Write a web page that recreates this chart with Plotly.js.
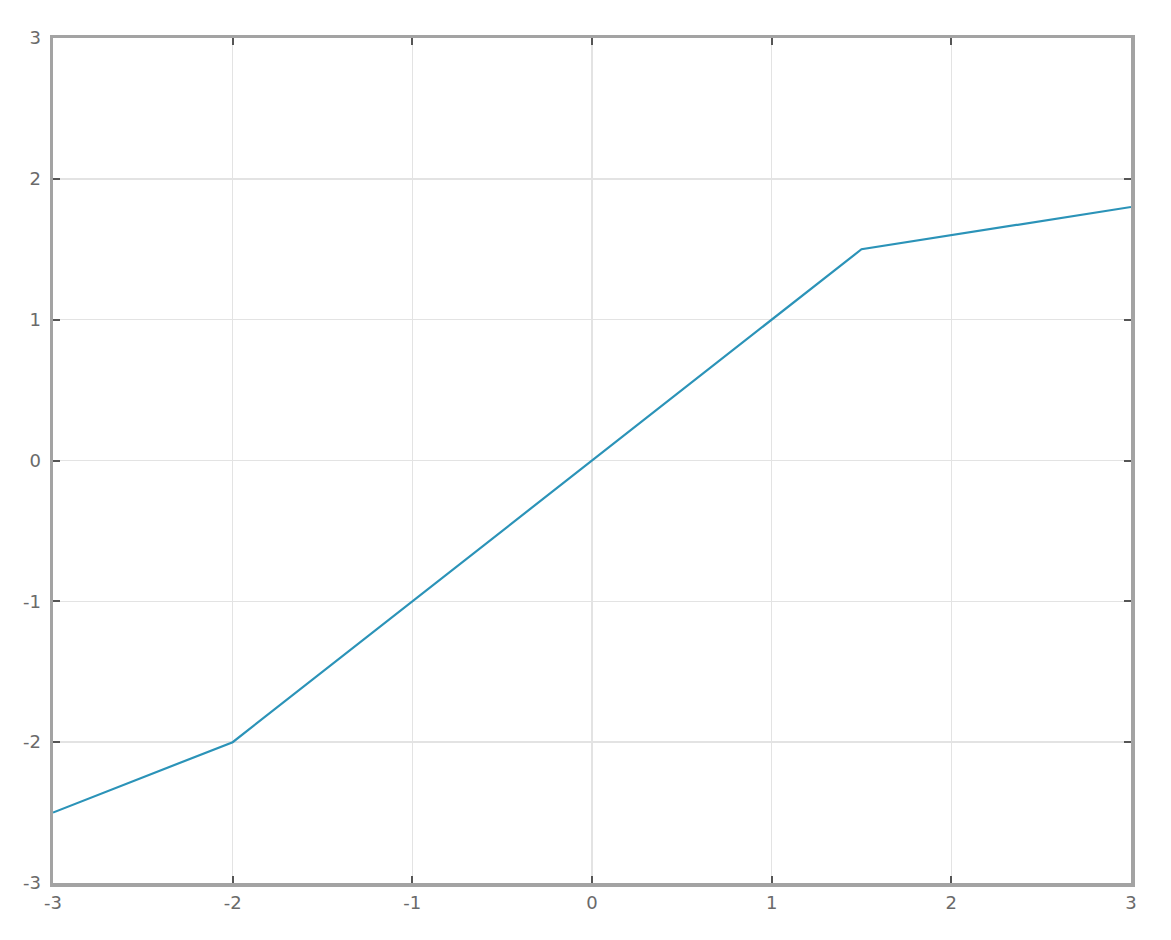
<!DOCTYPE html>
<html>
<head>
<meta charset="utf-8">
<script src="https://cdn.plot.ly/plotly-3.0.1.min.js"></script>
<style>
  html, body { margin: 0; padding: 0; background: #fff; }
  #chart { width: 1171px; height: 940px; }
</style>
</head>
<body>
<div id="chart"></div>
<script>
// piecewise linear curve
const xValues = [-3, -2, 1.5, 3]
const yValues = [-2.5, -2, 1.5, 1.8]
const tickVals = [-3, -2, -1, 0, 1, 2, 3]

const axisStyle = {
  range: [-3, 3],
  tickvals: tickVals,
  ticktext: tickVals.map(String),
  ticks: 'inside',
  ticklen: 7,
  tickwidth: 2,
  tickcolor: '#555',
  showline: true,
  linecolor: '#a3a3a3',
  linewidth: 3.5,
  mirror: 'ticks',
  showgrid: true,
  gridcolor: '#e3e3e3',
  gridwidth: 1.5,
  zeroline: false,
  tickfont: { family: 'DejaVu Sans', size: 18, color: '#6a6a6a' },
  fixedrange: true
}

const trace = {
  x: xValues,
  y: yValues,
  type: 'scatter',
  mode: 'lines',
  line: { color: '#2b93b8', width: 2.2 },
  showlegend: false,
  hoverinfo: 'none'
}

const layout = {
  width: 1171,
  height: 940,
  margin: { l: 53, r: 40, t: 38, b: 57 },
  paper_bgcolor: '#ffffff',
  plot_bgcolor: '#ffffff',
  xaxis: Object.assign({}, axisStyle, { ticklabelstandoff: 1 }),
  yaxis: Object.assign({}, axisStyle, { ticklabelstandoff: 5 }),
  showlegend: false
}

Plotly.newPlot('chart', [trace], layout, { displayModeBar: false, staticPlot: true })
</script>
</body>
</html>
